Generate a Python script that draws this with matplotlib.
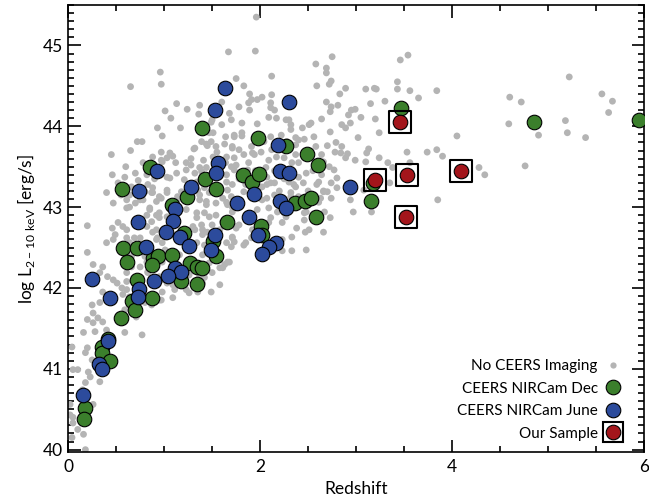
import numpy as np
import matplotlib
matplotlib.use("Agg")
import matplotlib.pyplot as plt
from matplotlib.lines import Line2D
from matplotlib.ticker import MultipleLocator

plt.rcParams['font.family'] = ['Lato', 'DejaVu Sans']

# Sem imagens CEERS (pontos cinza): redshift, log L
gray_pts = [
    (1.96,45.35),(1.67,44.92),(1.95,44.93),(0.96,44.67),(0.97,44.52),(0.65,44.49),(1.75,44.59),(1.83,44.50),
    (1.89,44.40),(1.60,44.30),(1.13,44.28),(1.01,44.19),(1.24,44.21),(1.37,44.26),(1.68,44.16),(1.78,44.24),
    (1.88,44.29),(1.89,44.20),(1.07,44.10),(1.50,44.08),(1.60,44.02),(1.81,44.04),(0.93,43.98),(1.17,43.98),
    (0.98,43.88),(0.72,43.81),(0.77,43.81),(1.51,43.92),(1.64,43.87),(1.73,43.87),(1.81,43.92),(1.44,43.78),
    (1.54,43.75),(1.63,43.78),(1.71,43.75),(1.78,43.71),(1.91,43.75),(1.32,43.73),(0.97,43.68),(1.09,43.63),
    (0.45,43.65),(1.28,43.60),(1.41,43.58),(1.65,43.62),(1.73,43.61),(1.83,43.65),(1.92,43.67),(0.98,43.56),
    (1.12,43.55),(1.23,43.55),(0.70,43.42),(0.59,43.37),(0.46,43.40),(1.23,43.46),(1.32,43.42),(1.37,43.49),
    (1.13,43.42),(1.70,43.50),(1.75,43.52),(1.87,43.46),(1.06,43.36),(1.21,43.34),(1.34,43.31),(1.65,43.31),
    (1.71,43.28),(0.88,43.18),(0.95,43.13),(1.03,43.18),(1.14,43.13),(0.40,43.18),(0.47,43.05),(0.61,43.09),
    (0.64,43.00),(0.78,43.09),(0.85,42.99),(0.95,42.93),(1.37,43.09),(1.44,43.03),(1.54,43.05),(1.65,43.06),
    (1.71,43.00),(1.23,42.97),(1.34,42.93),(1.47,42.88),(0.20,42.77),(0.46,42.74),(0.52,42.81),(0.61,42.72),
    (0.82,42.76),(0.92,42.72),(1.30,42.76),(1.40,42.72),(1.75,42.76),(1.92,42.72),(1.71,42.62),(0.47,42.60),
    (0.69,42.62),(0.92,42.60),(1.83,42.53),
    (0.20,42.44),(0.26,42.29),(0.36,42.26),(0.33,42.19),(0.41,42.14),(0.47,42.10),(0.51,42.06),(0.56,42.00),
    (0.61,41.98),(0.64,41.89),(0.36,41.95),(0.33,41.82),(0.25,41.79),(0.26,41.69),(0.20,41.61),(0.26,41.57),
    (0.36,41.58),(0.31,41.63),(0.16,41.45),(0.28,41.46),(0.40,41.48),(0.59,41.45),(0.77,41.42),(0.04,41.27),
    (0.20,41.26),(0.18,41.20),(0.25,41.11),(0.05,40.99),(0.10,40.99),(0.21,40.96),(0.23,40.90),(0.33,40.84),
    (0.18,40.83),(0.15,40.74),(0.26,40.56),(0.02,40.43),(0.05,40.40),(0.05,40.33),(0.16,40.19),(0.04,40.15),
    (0.18,40.00),(0.40,42.56),(0.49,42.66),(0.64,42.56),(0.80,42.39),(0.75,42.26),(0.61,42.19),(0.83,42.19),
    (0.95,42.14),(1.03,42.06),(1.11,41.98),(1.09,41.88),(0.97,41.85),(0.71,41.64),(0.59,41.73),(1.37,42.14),
    (1.49,41.95),(1.58,42.25),(1.66,42.32),(1.40,42.06),(1.23,41.98),(1.65,42.56),(1.71,42.63),(1.85,42.56),
    (1.92,42.63),(0.02,40.56),(0.10,40.25),
    (2.58,44.77),(2.75,44.86),(2.69,44.72),(2.69,44.66),(2.74,44.56),(2.72,44.52),(2.59,44.50),(2.12,44.62),
    (3.46,44.82),(3.54,44.88),(3.43,44.55),(3.43,44.46),(3.56,44.44),(3.65,44.35),(3.84,44.44),(3.10,44.46),
    (3.19,44.47),(3.21,44.46),(2.89,44.47),(2.83,44.40),(3.30,44.31),(3.15,44.28),(2.81,44.26),(2.74,44.24),
    (2.99,44.21),(2.95,44.20),(2.92,44.14),(3.05,44.11),(3.20,44.09),(2.64,44.09),(2.51,44.02),(2.44,43.98),
    (2.85,44.02),(2.89,43.98),(2.94,44.04),(2.73,43.93),(3.24,43.92),(3.02,43.86),(2.58,43.75),(2.70,43.76),
    (2.79,43.80),(2.85,43.75),(2.78,43.68),(2.84,43.67),(2.91,43.66),(2.89,43.61),(2.99,43.58),(3.11,43.67),
    (3.13,43.72),(3.10,43.56),(3.24,43.61),(3.53,43.68),(3.74,43.68),(3.84,43.71),(3.90,43.63),(3.33,43.55),
    (3.56,43.55),(3.38,43.49),(3.35,43.30),(2.80,43.36),(2.77,43.46),(2.72,43.50),(2.66,43.56),(2.61,43.31),
    (2.74,43.30),(2.70,43.19),(2.66,43.19),(2.80,43.24),(2.94,43.09),(2.97,42.94),(3.16,42.94),(3.08,43.21),
    (3.85,43.09),(2.61,43.06),(2.67,42.94),(2.73,42.87),(2.46,42.84),(2.51,42.72),(2.33,42.63),(2.23,42.81),
    (2.38,42.74),(2.47,42.69),(2.66,42.69),(2.25,42.93),(2.09,42.81),(2.06,42.68),(1.99,42.72),(2.02,44.36),
    (2.11,44.29),(2.15,44.20),(2.09,44.11),(2.17,44.10),(1.91,44.33),(2.30,44.08),(2.32,44.02),(1.97,44.03),
    (2.46,43.84),(2.40,43.83),(2.37,43.77),(2.22,43.89),(2.28,43.81),(2.04,43.81),(2.51,43.65),(2.64,43.65),
    (2.37,43.65),(2.01,43.68),(1.94,43.65),(2.09,43.58),(2.33,43.55),(2.06,43.49),(2.30,43.31),(2.15,43.30),
    (2.07,43.28),(2.37,43.25),(2.32,43.18),(2.15,43.15),(2.02,43.09),(2.40,43.09),(2.09,42.99),(2.23,43.00),
    (1.97,42.97),(2.46,42.93),(1.93,42.87),
    (4.60,44.36),(4.72,44.30),(5.22,44.61),(5.56,44.40),(5.67,44.31),(5.63,44.17),(4.59,44.03),(5.18,44.07),
    (5.20,43.92),(5.39,43.86),(4.90,43.89),(4.05,43.88),(4.28,43.49),(4.34,43.40),(4.76,43.51),
    (1.36,44.15),(1.49,44.05),(1.47,43.92),(1.39,43.81),(1.49,43.81),(1.45,43.76),(1.06,43.67),(1.03,43.61),
    (0.97,43.58),(1.31,43.72),(1.28,43.52),(1.51,43.62),(1.55,43.68),(1.44,43.49),(1.39,43.44),(1.03,43.37),
    (1.64,43.55),
    (0.87,43.18),(0.97,43.11),(0.92,43.07),(1.16,43.11),(1.18,43.19),(1.37,43.15),(1.44,43.07),(1.47,43.18),
    (1.61,43.11),(1.42,42.93),(1.54,42.90),(1.34,42.87),(1.61,42.82),(1.65,42.76),(1.39,42.78),(1.32,42.72),
    (1.40,42.66),(0.95,42.87),(0.87,42.82),(0.82,42.90),(0.57,42.76),(0.88,42.69),(0.93,42.62),(0.75,42.62),
    (0.61,42.62),(0.66,42.39),(0.82,42.32),(1.01,42.47),(0.98,42.32),(1.16,42.41),(1.40,42.41),(1.47,42.31),
    (1.50,42.19),(1.42,42.13),(0.97,42.10),(1.09,42.04),(1.26,42.16),(1.58,42.04),(1.26,41.94),(0.87,41.79),
    (0.61,42.08),(0.57,41.92),(0.80,41.82),
    (1.97,44.33),(2.12,44.39),(2.11,44.23),(2.27,44.08),(2.69,44.30),(2.73,44.18),(2.53,44.04),(2.32,43.96),
    (1.70,44.08),(1.73,43.89),(1.81,43.88),(2.11,43.87),(2.37,43.86),(2.56,43.87),(2.12,43.71),(1.71,43.73),
    (2.17,43.62),(2.25,43.61),(2.40,43.55),(2.64,43.40),(2.40,43.37),(2.48,43.42),(2.59,43.28),(1.73,43.46),
    (1.65,43.40),(2.07,43.37),(2.11,43.30),(2.02,43.25),(2.35,43.28),
    (1.70,43.13),(1.66,43.03),(1.83,43.19),(2.07,43.11),(2.32,43.13),(2.40,43.13),(2.66,43.20),(2.74,43.11),
    (2.63,43.11),(1.71,42.94),(1.70,42.84),(1.78,42.78),(1.75,42.74),(1.91,42.87),(2.18,42.94),(2.11,42.87),
    (2.27,42.88),(2.48,42.94),(2.23,42.60),(1.91,42.62),(1.73,42.57),(1.70,42.51),(2.23,42.46),(2.33,42.46),
    (2.48,42.47),(1.68,42.32),(1.63,42.29),
    (0.64,43.15),(0.75,43.09),(0.80,43.19),(0.88,43.24),(1.03,43.21),(1.35,43.21),(1.42,43.24),(1.58,43.18),
    (1.66,43.21),(0.61,42.99),(0.85,42.97),(0.92,42.90),(1.03,42.88),(1.50,42.78),(1.58,42.72),(1.45,42.69),
    (1.34,42.56),(1.42,42.53),(0.98,42.56),(0.66,42.26),(0.83,42.20),(1.61,42.25),(1.35,41.95),(0.98,41.95),
    (0.95,41.85),(0.52,43.30),(0.66,43.25),(0.73,43.33),(0.82,43.40),(0.90,43.35),(0.55,43.15),(0.70,43.05),
    (0.83,43.28),(0.60,43.50),(0.78,43.55),(0.88,43.62),(0.65,43.70),(1.78,43.35),(1.85,43.28),(1.95,43.45),
    (2.15,43.45),(2.25,43.35),(2.45,43.30),(2.50,43.20),(1.88,43.55),(2.20,43.20),(2.55,43.45),
]
gray_z = [p[0] for p in gray_pts]
gray_l = [p[1] for p in gray_pts]

# CEERS NIRCam Dec (verde)
dec_z = [1.39,1.98,2.27,2.49,2.60,1.82,1.92,1.99,1.43,0.85,0.56,1.54,1.24,1.08,2.36,2.47,2.53,2.58,
         1.65,2.01,2.02,1.21,1.51,0.57,0.72,0.88,0.94,0.87,1.08,1.54,0.61,1.27,1.34,1.39,1.18,1.34,
         0.72,0.67,0.87,0.70,0.55,0.41,0.35,0.35,0.44,0.18,0.17,3.47,3.18,3.16,4.85,5.95]
dec_l = [43.98,43.86,43.75,43.66,43.52,43.40,43.31,43.41,43.35,43.49,43.23,43.23,43.13,43.02,43.05,43.08,43.11,42.88,
         42.81,42.77,42.65,42.68,42.58,42.50,42.50,42.37,42.40,42.29,42.41,42.39,42.32,42.31,42.26,42.25,42.08,42.05,
         42.10,41.84,41.88,41.73,41.63,41.37,41.27,41.20,41.10,40.52,40.38,44.22,43.30,43.07,44.05,44.08]

# CEERS NIRCam June (azul)
june_z = [1.63,1.53,2.30,1.56,1.54,0.93,1.28,0.74,1.94,1.76,2.19,2.21,2.30,2.21,2.27,2.94,1.88,1.11,
          1.09,0.73,1.02,1.16,1.53,1.26,1.49,0.81,1.98,2.16,2.09,2.02,1.11,1.18,1.04,0.89,0.25,0.74,
          0.73,0.44,0.42,0.32,0.35,0.15]
june_l = [44.47,44.20,44.30,43.55,43.42,43.45,43.25,43.20,43.16,43.05,43.77,43.45,43.42,43.07,42.99,43.25,42.88,42.98,
          42.83,42.82,42.69,42.63,42.65,42.52,42.47,42.51,42.66,42.55,42.51,42.42,42.25,42.20,42.15,42.08,42.11,41.99,
          41.89,41.88,41.34,41.06,41.00,40.67]

# Nossa amostra (vermelho)
our_z = [3.46, 3.20, 3.53, 3.52, 4.09]
our_l = [44.05, 43.34, 43.40, 42.88, 43.45]

c_gray = '#b4b4b4'
c_green = '#3b7f2c'
c_blue = '#2c4b9c'
c_red = '#a3151b'

fig = plt.figure(figsize=(6.49, 4.99), dpi=100)
ax = fig.add_axes([0.105, 0.094, 0.8875, 0.896])

ax.scatter(gray_z, gray_l, s=24, color=c_gray, edgecolors='none', zorder=2)
ax.scatter(dec_z, dec_l, s=110, color=c_green, edgecolors='black', linewidths=0.8, zorder=3)
ax.scatter(june_z, june_l, s=110, color=c_blue, edgecolors='black', linewidths=0.8, zorder=4)
ax.scatter(our_z, our_l, s=250, marker='s', facecolors='none', edgecolors='black', linewidths=1.5, zorder=5)
ax.scatter(our_z, our_l, s=110, color=c_red, edgecolors='black', linewidths=0.8, zorder=6)

ax.set_xlim(0, 6)
ax.set_ylim(39.97, 45.5)
ax.xaxis.set_major_locator(MultipleLocator(2))
ax.xaxis.set_minor_locator(MultipleLocator(0.5))
ax.yaxis.set_major_locator(MultipleLocator(1))
ax.yaxis.set_minor_locator(MultipleLocator(0.1))
ax.tick_params(which='both', direction='in', top=True, right=True, labelsize=12.5, width=1.2)
ax.tick_params(which='major', length=9)
ax.tick_params(which='minor', length=4.5)
ax.tick_params(axis='x', pad=5)
for sp in ax.spines.values():
    sp.set_linewidth(1.2)

ax.set_xlabel('Redshift', fontsize=12.5, labelpad=4)
ax.set_ylabel(r'log L$_{\mathregular{2-10\ keV}}$ [erg/s]', fontsize=12.5, labelpad=4)

h_gray = Line2D([], [], ls='none', marker='o', ms=4.5, mfc=c_gray, mec='none')
h_green = Line2D([], [], ls='none', marker='o', ms=10.5, mfc=c_green, mec='black', mew=0.8)
h_blue = Line2D([], [], ls='none', marker='o', ms=10.5, mfc=c_blue, mec='black', mew=0.8)
h_red = Line2D([], [], ls='none', marker='o', ms=10.5, mfc=c_red, mec='black', mew=0.8)
h_sq = Line2D([], [], ls='none', marker='s', ms=15, mfc='none', mec='black', mew=1.5)
ax.legend([h_gray, h_green, h_blue, (h_sq, h_red)],
          ['No CEERS Imaging', 'CEERS NIRCam Dec', 'CEERS NIRCam June', 'Our Sample'],
          loc='lower right', bbox_to_anchor=(0.983, -0.005), frameon=False, markerfirst=False,
          fontsize=11, handlelength=1.0, handletextpad=0.5, labelspacing=0.55)

fig.savefig('out.png', dpi=100)
